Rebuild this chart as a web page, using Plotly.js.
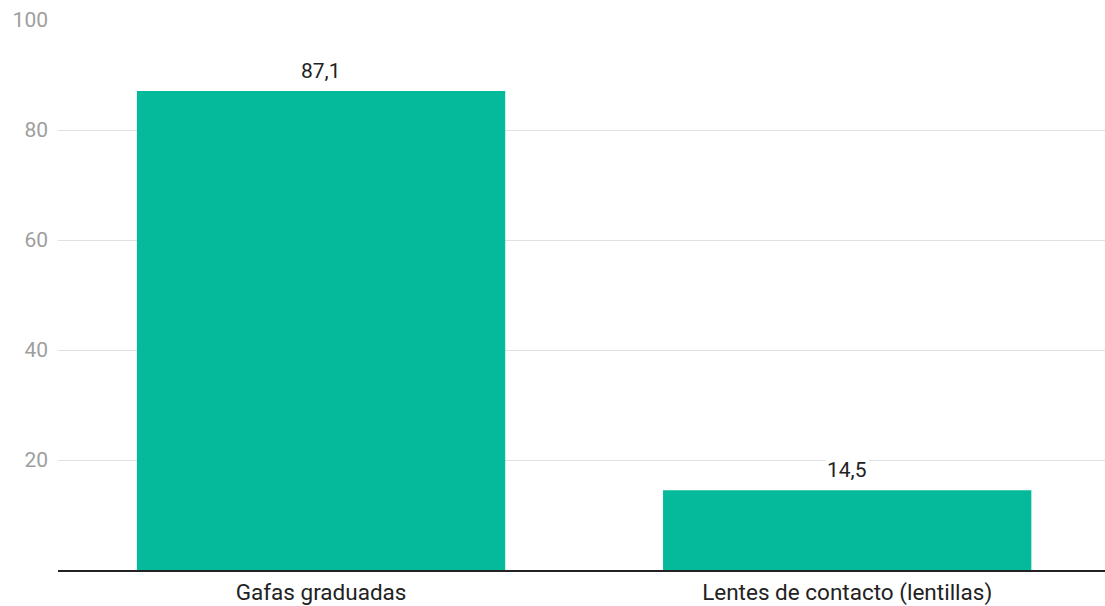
<!DOCTYPE html>
<html>
<head>
<meta charset="utf-8">
<script src="https://cdn.plot.ly/plotly-3.0.1.min.js"></script>
<style>html,body{margin:0;padding:0;background:#fff;}#chart{width:1105px;height:606px;}</style>
</head>
<body>
<div id="chart"></div>
<script>
var categories = ["Gafas graduadas", "Lentes de contacto (lentillas)"];
var values = [87.1, 14.5];
var yTicks = [20, 40, 60, 80, 100];

function fmt(v){ return v.toFixed(1).replace(".", ","); }

var trace = {
  type: "bar",
  x: categories,
  y: values,
  marker: {color: "#05BA9B"},
  hoverinfo: "none"
};

var annotations = categories.map(function(c, i){
  return {
    x: c, y: values[i], xref: "x", yref: "y",
    text: fmt(values[i]),
    showarrow: false,
    yanchor: "bottom",
    yshift: 6,
    bgcolor: "#ffffff",
    borderpad: 1,
    font: {family: "Roboto", size: 21, color: "#222222"}
  };
});

var layout = {
  width: 1105,
  height: 606,
  margin: {l: 58, r: 0, t: 20, b: 36},
  paper_bgcolor: "#ffffff",
  plot_bgcolor: "#ffffff",
  bargap: 0.3,
  showlegend: false,
  font: {family: "Roboto", size: 21, color: "#222222"},
  annotations: annotations,
  xaxis: {
    type: "category",
    range: [-0.5, 1.49],
    showgrid: false,
    showline: true,
    linecolor: "#222222",
    linewidth: 2,
    ticks: "",
    ticklabelstandoff: 1,
    tickfont: {family: "Roboto", size: 22.5, color: "#222222"},
    fixedrange: true
  },
  yaxis: {
    range: [0, 100],
    tickvals: yTicks,
    ticktext: yTicks.map(String),
    showgrid: true,
    gridcolor: "#e0e0e0",
    gridwidth: 1,
    zeroline: false,
    showline: false,
    ticks: "",
    ticklabelstandoff: 9,
    tickfont: {family: "Roboto", size: 21, color: "#9e9e9e"},
    fixedrange: true
  }
};

Plotly.newPlot("chart", [trace], layout, {displayModeBar: false, staticPlot: true});
</script>
</body>
</html>
